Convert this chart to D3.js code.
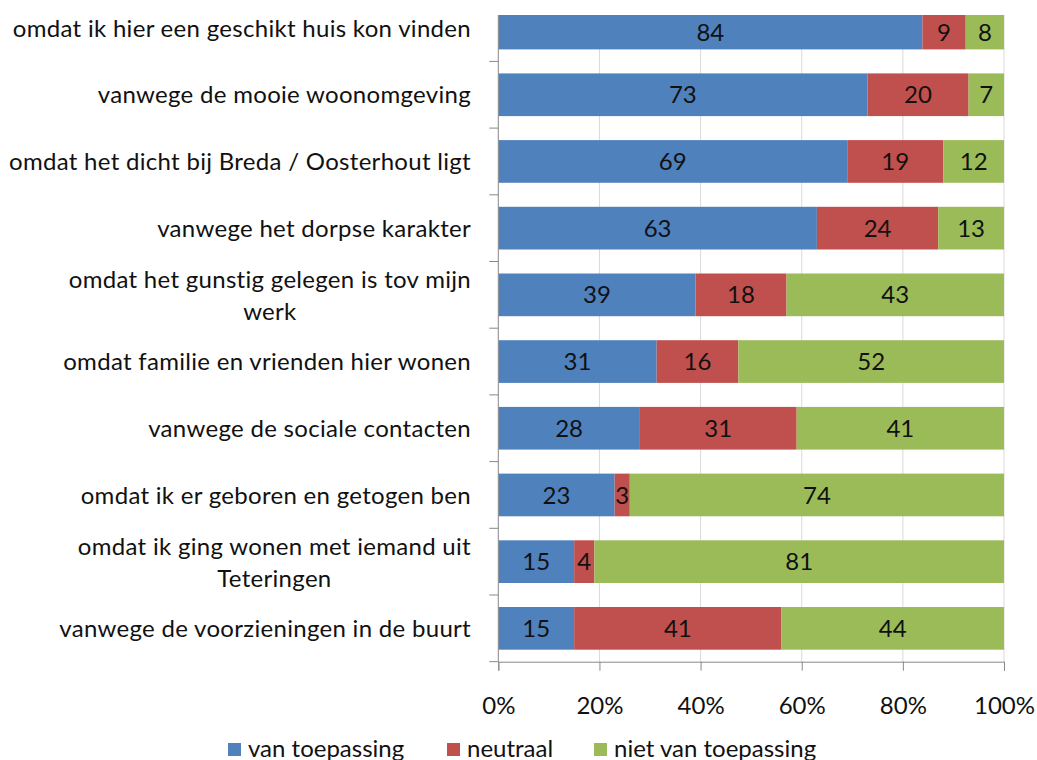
<!DOCTYPE html>
<html>
<head>
<meta charset="utf-8">
<script src="https://cdn.jsdelivr.net/npm/d3@7"></script>
<style>
  body { margin: 0; background: #fff; }
  svg { display: block; font-family: Lato, "Open Sans", sans-serif; }
</style>
</head>
<body>
<svg id="chart" width="1037" height="760"></svg>
<script>
// categories, top to bottom (label lines)
var categories = [
    ['omdat ik hier een geschikt huis kon vinden'],
    ['vanwege de mooie woonomgeving'],
    ['omdat het dicht bij Breda / Oosterhout ligt'],
    ['vanwege het dorpse karakter'],
    ['omdat het gunstig gelegen is tov mijn', 'werk'],
    ['omdat familie en vrienden hier wonen'],
    ['vanwege de sociale contacten'],
    ['omdat ik er geboren en getogen ben'],
    ['omdat ik ging wonen met iemand uit', 'Teteringen'],
    ['vanwege de voorzieningen in de buurt']
];
var series = ['van toepassing', 'neutraal', 'niet van toepassing'];
var vanToepassing     = [84.2, 73, 69, 63, 39, 31, 28, 23, 15, 15];
var neutraal          = [8.6, 20, 19, 24, 18, 16, 31, 3, 4, 41];
var nietVanToepassing = [7.6, 7, 12, 13, 43, 52, 41, 74, 81, 44];
var colors = ['#4F81BD', '#C0504D', '#9BBB59'];
var xTicks = [0, 0.2, 0.4, 0.6, 0.8, 1];

var pLeft = 498.3, pRight = 1004, pTop = 15, pBottom = 661.7;
var step = 66.7;
var fs = 24;

var rows = categories.map(function(c, i) {
    var vals = [vanToepassing[i], neutraal[i], nietVanToepassing[i]];
    var total = d3.sum(vals);
    var acc = 0;
    return {
        key: i,
        lines: c,
        segs: vals.map(function(v, j) {
            var s = {v: v, j: j, row: i, x0: acc / total, x1: (acc + v) / total};
            acc += v;
            return s;
        })
    };
});

var xs = d3.scaleLinear().domain([0, 1]).range([pLeft, pRight]);
var ys = d3.scaleBand().domain(d3.range(categories.length))
    .range([pBottom - step * categories.length, pBottom])
    .paddingInner(0.36).paddingOuter(0.18);

var svg = d3.select('#chart');

svg.append('defs').append('clipPath').attr('id', 'plotclip')
    .append('rect')
    .attr('x', pLeft).attr('y', pTop)
    .attr('width', pRight - pLeft + 1).attr('height', pBottom - pTop);

// gridlines
svg.append('g').selectAll('line')
    .data(xTicks.slice(1))
    .enter().append('line')
    .attr('x1', function(d) { return xs(d); })
    .attr('x2', function(d) { return xs(d); })
    .attr('y1', pTop).attr('y2', pBottom)
    .attr('stroke', '#d9d9d9').attr('stroke-width', 1);

// bars
var plot = svg.append('g').attr('clip-path', 'url(#plotclip)');
plot.selectAll('g.row')
    .data(rows)
    .enter().append('g').attr('class', 'row')
    .selectAll('rect')
    .data(function(d) { return d.segs; })
    .enter().append('rect')
    .attr('x', function(d) { return xs(d.x0); })
    .attr('width', function(d) { return xs(d.x1) - xs(d.x0); })
    .attr('y', function(d) { return ys(d.row); })
    .attr('height', ys.bandwidth())
    .attr('fill', function(d) { return colors[d.j]; });

// data labels
svg.append('g').selectAll('g')
    .data(rows)
    .enter().append('g')
    .selectAll('text')
    .data(function(d) { return d.segs; })
    .enter().append('text')
    .attr('x', function(d) { return (xs(d.x0) + xs(d.x1)) / 2; })
    .attr('y', function(d) {
        var y0 = Math.max(ys(d.row), pTop), y1 = ys(d.row) + ys.bandwidth();
        return (y0 + y1) / 2;
    })
    .attr('dy', '0.36em')
    .attr('text-anchor', 'middle')
    .attr('font-size', fs)
    .attr('fill', '#111')
    .text(function(d) { return d3.format('.0f')(d.v); });

// y axis
var yAxis = svg.append('g').attr('stroke', '#888').attr('stroke-width', 1);
yAxis.append('line')
    .attr('x1', pLeft).attr('x2', pLeft).attr('y1', pTop).attr('y2', pBottom);
yAxis.selectAll('line.tick')
    .data(d3.range(categories.length))
    .enter().append('line').attr('class', 'tick')
    .attr('x1', pLeft - 9).attr('x2', pLeft)
    .attr('y1', function(d) { return ys(d) + ys.bandwidth() + ys.step() * ys.paddingInner() / 2; })
    .attr('y2', function(d) { return ys(d) + ys.bandwidth() + ys.step() * ys.paddingInner() / 2; });

// x axis
var xAxis = svg.append('g')
    .attr('transform', 'translate(0,' + pBottom + ')')
    .call(d3.axisBottom(xs).tickValues(xTicks).tickFormat(d3.format('.0%')).tickSize(9).tickPadding(26));
xAxis.select('.domain').attr('stroke', '#888');
xAxis.selectAll('.tick line').attr('stroke', '#888');
xAxis.selectAll('.tick text')
    .attr('font-size', fs).attr('fill', '#111').attr('font-family', 'Lato, sans-serif');

// category labels
var cat = svg.append('g').selectAll('text')
    .data(rows)
    .enter().append('text')
    .attr('text-anchor', 'end')
    .attr('font-size', fs)
    .attr('letter-spacing', 0.3)
    .attr('fill', '#111')
    .attr('transform', function(d) {
        var cy = ys(d.key) + ys.bandwidth() / 2;
        return 'translate(471,' + cy + ')';
    });
cat.each(function(d) {
    var t = d3.select(this);
    var lh = 32;
    var n = d.lines.length;
    var spans = d.lines.map(function(l, k) {
        return t.append('tspan').attr('x', 0)
            .attr('y', (k - (n - 1) / 2) * lh + (n > 1 ? 1 : 0))
            .attr('dy', '0.36em')
            .text(l);
    });
    if (n > 1) {
        // center the lines relative to the widest line
        var widths = spans.map(function(s) { return s.node().getComputedTextLength(); });
        var wmax = d3.max(widths);
        spans.forEach(function(s, k) { s.attr('x', -(wmax - widths[k]) / 2); });
    }
});

// legend
var legX = [228, 447, 594];
var leg = svg.append('g').selectAll('g')
    .data(series)
    .enter().append('g')
    .attr('transform', function(d, i) { return 'translate(' + legX[i] + ',743)'; });
leg.append('rect')
    .attr('width', 13).attr('height', 13)
    .attr('fill', function(d, i) { return colors[i]; });
leg.append('text')
    .attr('x', 20).attr('y', 14)
    .attr('font-size', fs).attr('fill', '#111')
    .text(function(d) { return d; });
</script>
</body>
</html>
